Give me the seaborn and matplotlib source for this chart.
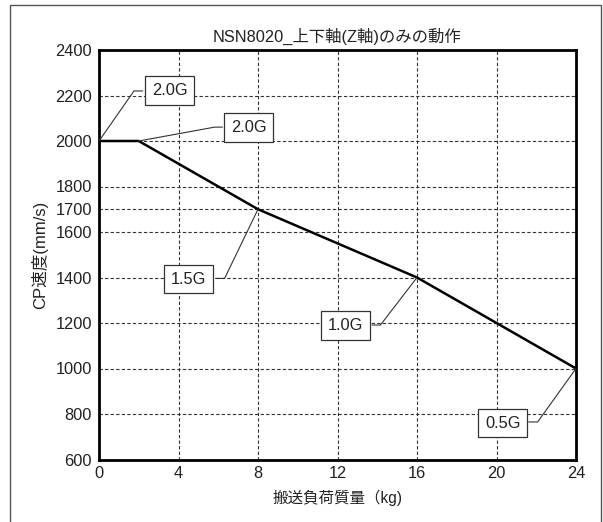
import matplotlib
matplotlib.use("Agg")
import matplotlib.pyplot as plt
import seaborn as sns
import pandas as pd
from matplotlib.patches import Rectangle

# ---- data ----
load_kg = [0, 2, 8, 16, 24]
speed = [2000, 2000, 1700, 1400, 1000]
x_ticks = [0, 4, 8, 12, 16, 20, 24]
y_ticks = [600, 800, 1000, 1200, 1400, 1600, 1700, 1800, 2000, 2200, 2400]
accel_labels = ["2.0G", "2.0G", "1.5G", "1.0G", "0.5G"]
# label (text centre) positions, knot positions of the leader lines (data units)
label_xy = [(3.56, 2221), (7.53, 2061), (4.51, 1393), (12.41, 1188), (20.31, 760)]
knot_xy = [(1.76, 2220), (5.82, 2061), (6.32, 1396), (14.16, 1191), (22.07, 765)]
edge_x = [2.2, 6.21, 5.86, 13.74, 21.62]

title = "NSN8020_上下軸(Z軸)のみの動作"
xlabel = "搬送負荷質量（kg)"
ylabel = "CP速度(mm/s)"

sns.set_theme(style="white")
plt.rcParams["font.family"] = ["Liberation Sans", "Noto Sans CJK JP", "DejaVu Sans"]

df = pd.DataFrame({"load": load_kg, "speed": speed})

fig = plt.figure(figsize=(6.03, 5.22), dpi=100)
ax = fig.add_axes([99 / 603, 1 - 459.5 / 522, (576 - 99) / 603, (459.5 - 50) / 522])

sns.lineplot(data=df, x="load", y="speed", ax=ax, color="black", linewidth=1.8, zorder=4)

ax.set_xlim(0, 24)
ax.set_ylim(600, 2400)
ax.set_xticks(x_ticks)
ax.set_yticks(y_ticks)
ax.set_xticklabels([str(v) for v in x_ticks])
ax.set_yticklabels([str(v) for v in y_ticks])
ax.tick_params(axis="both", length=0, labelsize=11.8, colors="#222222", pad=5)
ax.grid(True, color="#333333", linestyle=(0, (3, 2)), linewidth=0.8)
ax.set_axisbelow(True)
for s in ax.spines.values():
    s.set_visible(True)
    s.set_color("black")
    s.set_linewidth(2.0)

ax.set_title(title, fontsize=11.8, color="#222222", pad=6)
ax.set_xlabel(xlabel, fontsize=11.2, color="#222222", labelpad=6)
ax.set_ylabel(ylabel, fontsize=12, color="#222222", labelpad=5)

for lab, (tx, ty), (kx, ky), ex, px, py in zip(accel_labels, label_xy, knot_xy, edge_x, load_kg, speed):
    ax.plot([px, kx, ex], [py, ky, ky], color="#333333", linewidth=0.8, zorder=5, clip_on=False)
    ax.text(tx, ty, lab, ha="center", va="center", fontsize=11.8, color="#222222", zorder=6,
            bbox=dict(boxstyle="square,pad=0.42", facecolor="white", edgecolor="#333333", linewidth=0.9))

# outer frame
fig.patches.append(Rectangle((10 / 603, -0.05), (601 - 10) / 603, 1.05 - 4.5 / 522,
                             transform=fig.transFigure, fill=False, edgecolor="#555555", linewidth=1.0))

fig.savefig("out.png", dpi=100, facecolor="white")
